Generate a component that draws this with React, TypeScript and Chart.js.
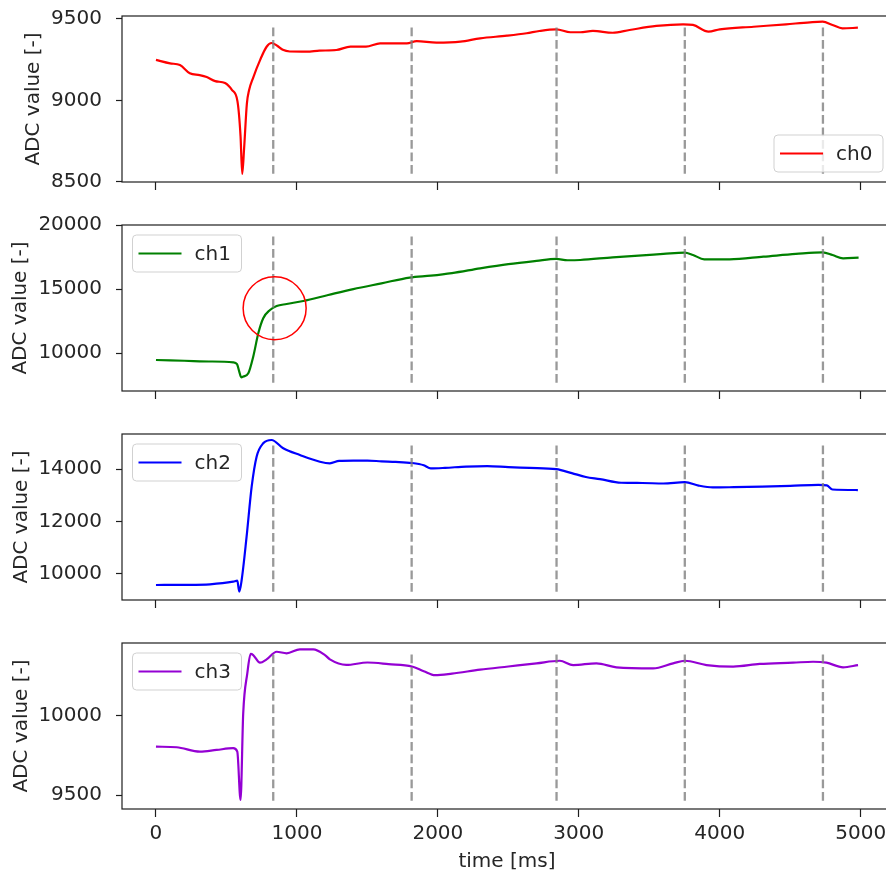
import React, { useEffect, useRef } from "react";
import { Chart, registerables } from "chart.js";

Chart.register(...registerables);

// ---- recorded samples (time in ms, raw ADC counts) ----
const CH0_TIME = [0, 100, 170, 240, 310, 360, 420, 490, 540, 578, 600, 612, 625, 645, 660, 690, 740, 785, 820, 860, 900, 950, 1070, 1160, 1280, 1380, 1490, 1590, 1780, 1850, 1990, 2160, 2300, 2490, 2630, 2720, 2840, 2940, 3010, 3100, 3240, 3360, 3550, 3740, 3810, 3920, 4000, 4240, 4470, 4640, 4730, 4800, 4870, 4980];
const CH0_VALUE = [9248, 9227, 9217, 9166, 9155, 9143, 9118, 9106, 9063, 8995, 8780, 8548, 8700, 8980, 9060, 9140, 9250, 9329, 9352, 9335, 9310, 9300, 9299, 9305, 9309, 9330, 9330, 9350, 9350, 9364, 9354, 9360, 9381, 9397, 9412, 9426, 9436, 9418, 9418, 9426, 9415, 9432, 9457, 9467, 9463, 9422, 9436, 9452, 9467, 9479, 9483, 9463, 9442, 9446];

const CH1_TIME = [0, 200, 400, 548, 575, 590, 605, 620, 655, 690, 726, 761, 809, 856, 927, 1045, 1222, 1400, 1600, 1800, 1950, 2100, 2300, 2500, 2700, 2840, 2920, 3010, 3240, 3600, 3750, 3810, 3890, 4070, 4310, 4540, 4730, 4800, 4875, 4985];
const CH1_VALUE = [9470, 9410, 9350, 9290, 9150, 8600, 8120, 8180, 8430, 9727, 11553, 12723, 13370, 13682, 13838, 14072, 14540, 15000, 15450, 15900, 16050, 16250, 16620, 16950, 17200, 17350, 17250, 17270, 17480, 17740, 17840, 17660, 17325, 17325, 17530, 17740, 17870, 17660, 17400, 17450];

const CH2_TIME = [0, 200, 383, 548, 577, 591, 608, 643, 679, 714, 761, 820, 903, 1021, 1163, 1234, 1300, 1400, 1500, 1600, 1700, 1816, 1900, 1950, 2050, 2200, 2350, 2500, 2650, 2840, 2950, 3050, 3150, 3300, 3450, 3600, 3752, 3850, 3950, 4100, 4300, 4500, 4700, 4760, 4800, 4980];
const CH2_VALUE = [9556, 9560, 9583, 9683, 9720, 9300, 9748, 11410, 13330, 14480, 14993, 15120, 14800, 14544, 14287, 14226, 14320, 14330, 14330, 14300, 14280, 14237, 14150, 14030, 14050, 14100, 14120, 14080, 14050, 14000, 13850, 13700, 13620, 13480, 13470, 13450, 13500, 13370, 13300, 13310, 13330, 13360, 13400, 13380, 13220, 13200];

const CH3_TIME = [0, 147, 312, 430, 548, 577, 600, 619, 648, 672, 690, 738, 785, 856, 927, 1021, 1116, 1199, 1234, 1350, 1500, 1650, 1816, 1900, 1980, 2100, 2300, 2500, 2700, 2865, 2960, 3125, 3267, 3527, 3669, 3752, 3906, 4095, 4284, 4520, 4662, 4757, 4875, 4981];
const CH3_VALUE = [9805, 9801, 9773, 9784, 9795, 9773, 9469, 10015, 10267, 10389, 10382, 10334, 10355, 10403, 10393, 10418, 10418, 10382, 10355, 10320, 10335, 10325, 10310, 10280, 10255, 10265, 10290, 10310, 10330, 10346, 10319, 10330, 10305, 10298, 10330, 10346, 10319, 10309, 10326, 10334, 10340, 10334, 10305, 10319];

// event markers (ms) drawn as dashed verticals in every panel
const EVENT_TIMES = [832, 1814, 2842, 3752, 4732];
// highlighted point on ch1: [time, value]
const CH1_HIGHLIGHT = [842, 13500];

const X_TICKS = [0, 1000, 2000, 3000, 4000, 5000];
const CH0_TICKS = [8500, 9000, 9500];
const CH1_TICKS = [10000, 15000, 20000];
const CH2_TICKS = [10000, 12000, 14000];
const CH3_TICKS = [9500, 10000];

const X_MIN = -241;
const X_MAX = 5222;

const FONT = "'DejaVu Sans', sans-serif";
const TEXT_COLOR = "#262626";

type PanelCfg = {
  label: string;
  color: string;
  time: number[];
  values: number[];
  yMin: number;
  yMax: number;
  yTicks: number[];
  corner: "ul" | "lr";
  titlePad: number;
  highlight?: number[];
};

const PANELS: PanelCfg[] = [
  { label: "ch0", color: "#ff0000", time: CH0_TIME, values: CH0_VALUE, yMin: 8498, yMax: 9518, yTicks: CH0_TICKS, corner: "lr", titlePad: 22 },
  { label: "ch1", color: "#008000", time: CH1_TIME, values: CH1_VALUE, yMin: 7050, yMax: 20000, yTicks: CH1_TICKS, corner: "ul", titlePad: 9, highlight: CH1_HIGHLIGHT },
  { label: "ch2", color: "#0000ff", time: CH2_TIME, values: CH2_VALUE, yMin: 8980, yMax: 15350, yTicks: CH2_TICKS, corner: "ul", titlePad: 10 },
  { label: "ch3", color: "#9400d3", time: CH3_TIME, values: CH3_VALUE, yMin: 9412, yMax: 10458, yTicks: CH3_TICKS, corner: "ul", titlePad: 10 },
];

const CANVAS_W = 892;
const AREA_TOP = 16;
const AREA_H = 166;
const PANEL_STEP = 209;
const Y_AXIS_W = 122;

// axes frame + in-axes legend box
const panelDecor = {
  id: "panelDecor",
  afterDatasetsDraw(chart: any, _args: any, opts: any) {
    const { ctx, chartArea: a } = chart;
    ctx.save();
    ctx.strokeStyle = "#1e1e1e";
    ctx.lineWidth = 1.2;
    ctx.strokeRect(a.left, a.top, a.right - a.left, a.bottom - a.top);

    const w = 109;
    const h = 37;
    const x = opts.corner === "lr" ? a.right - 9 - w : a.left + 10.5;
    const y = opts.corner === "lr" ? a.bottom - 10 - h : a.top + 10;
    ctx.beginPath();
    ctx.roundRect(x, y, w, h, 4);
    ctx.fillStyle = "rgba(255,255,255,0.8)";
    ctx.fill();
    ctx.strokeStyle = "rgba(204,204,204,0.9)";
    ctx.lineWidth = 1;
    ctx.stroke();

    const cy = y + h / 2;
    ctx.beginPath();
    ctx.moveTo(x + 6, cy);
    ctx.lineTo(x + 49, cy);
    ctx.strokeStyle = opts.color;
    ctx.lineWidth = 2.2;
    ctx.stroke();

    ctx.fillStyle = TEXT_COLOR;
    ctx.font = `20px ${FONT}`;
    ctx.textAlign = "left";
    ctx.textBaseline = "middle";
    ctx.fillText(opts.label, x + 62, cy + 1);
    ctx.restore();
  },
};

function Panel({ cfg, index, last }: { cfg: PanelCfg; index: number; last: boolean }) {
  const ref = useRef<HTMLCanvasElement>(null);
  const height = last ? 875 - index * PANEL_STEP : PANEL_STEP;
  const top = index * PANEL_STEP;

  useEffect(() => {
    const span = cfg.yMax - cfg.yMin;
    const lo = cfg.yMin + 0.05 * span;
    const hi = cfg.yMin + 0.95 * span;

    const datasets: any[] = [
      {
        label: cfg.label,
        data: cfg.time.map((t, i) => ({ x: t, y: cfg.values[i] })),
        borderColor: cfg.color,
        borderWidth: 2.2,
        pointRadius: 0,
        cubicInterpolationMode: "monotone",
        order: 2,
      },
      ...EVENT_TIMES.map((t) => ({
        label: "event",
        data: [
          { x: t, y: lo },
          { x: t, y: hi },
        ],
        borderColor: "rgba(128,128,128,0.8)",
        borderWidth: 2.3,
        borderDash: [8.7, 3.8],
        pointRadius: 0,
        tension: 0,
        order: 1,
      })),
    ];
    if (cfg.highlight) {
      datasets.push({
        label: "highlight",
        data: [{ x: cfg.highlight[0], y: cfg.highlight[1] }],
        showLine: false,
        pointRadius: 31.5,
        pointStyle: "circle",
        pointBorderColor: "#ff0000",
        pointBackgroundColor: "rgba(0,0,0,0)",
        pointBorderWidth: 1.5,
        borderColor: "#ff0000",
        clip: false,
        order: 0,
      });
    }

    const chart = new Chart(ref.current!, {
      type: "line",
      data: { datasets },
      plugins: [panelDecor],
      options: {
        animation: false,
        responsive: false,
        devicePixelRatio: 1,
        layout: { autoPadding: false, padding: { top: AREA_TOP, left: 0, right: 0, bottom: 0 } },
        events: [],
        plugins: {
          legend: { display: false },
          tooltip: { enabled: false },
          panelDecor: { corner: cfg.corner, color: cfg.color, label: cfg.label },
        } as any,
        scales: {
          x: {
            type: "linear",
            min: X_MIN,
            max: X_MAX,
            position: "bottom",
            afterBuildTicks: (s: any) => {
              s.ticks = X_TICKS.map((value) => ({ value }));
            },
            afterFit: (s: any) => {
              s.height = height - AREA_TOP - AREA_H;
              s.paddingLeft = 0;
              s.paddingRight = 0;
            },
            ticks: {
              display: last,
              autoSkip: false,
              maxRotation: 0,
              padding: 5,
              color: TEXT_COLOR,
              font: { family: FONT, size: 20 },
              callback: (v: any) => String(v),
            },
            grid: {
              drawOnChartArea: false,
              drawTicks: true,
              tickLength: 8,
              tickWidth: 1.2,
              color: "#1e1e1e",
            },
            border: { display: false },
            title: {
              display: last,
              text: "time [ms]",
              color: TEXT_COLOR,
              font: { family: FONT, size: 20 },
              padding: { top: 0, bottom: 1 },
            },
          },
          y: {
            type: "linear",
            min: cfg.yMin,
            max: cfg.yMax,
            afterBuildTicks: (s: any) => {
              s.ticks = cfg.yTicks.map((value) => ({ value }));
            },
            afterFit: (s: any) => {
              s.width = Y_AXIS_W;
              s.paddingTop = 0;
              s.paddingBottom = 0;
            },
            ticks: {
              padding: 14,
              color: TEXT_COLOR,
              font: { family: FONT, size: 20 },
              callback: (v: any) => String(v),
            },
            grid: {
              drawOnChartArea: false,
              drawTicks: true,
              tickLength: 6,
              tickWidth: 1.2,
              color: "#1e1e1e",
            },
            border: { display: false },
            title: {
              display: true,
              text: "ADC value [-]",
              color: TEXT_COLOR,
              font: { family: FONT, size: 20 },
              padding: { top: cfg.titlePad, bottom: 0 },
            },
          },
        },
      } as any,
    });
    return () => chart.destroy();
  }, []);

  return (
    <canvas
      ref={ref}
      width={CANVAS_W}
      height={height}
      style={{ position: "absolute", left: 0, top, width: CANVAS_W, height }}
    />
  );
}

export default function App() {
  return (
    <div
      style={{
        position: "fixed",
        left: 0,
        top: 0,
        width: 886,
        height: 875,
        overflow: "hidden",
        background: "#ffffff",
      }}
    >
      {PANELS.map((cfg, i) => (
        <Panel key={cfg.label} cfg={cfg} index={i} last={i === PANELS.length - 1} />
      ))}
    </div>
  );
}
